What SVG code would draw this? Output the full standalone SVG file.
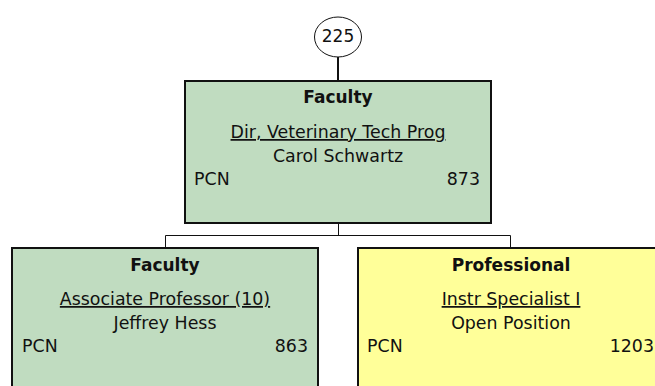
<svg xmlns="http://www.w3.org/2000/svg" width="655" height="386" viewBox="0 0 655 386">
<style>
text { font-family: "DejaVu Sans", Verdana, sans-serif; font-size: 17.4px; fill: #111; }
.t { font-weight: bold; text-anchor: middle; font-size: 17px; }
.c { text-anchor: middle; }
.u { text-anchor: middle; text-decoration: underline; }
.r { text-anchor: end; }
.box { stroke: #111; stroke-width: 2; }
.g { fill: #c0dcc0; }
.y { fill: #ffff99; }
.conn { fill: none; stroke: #111; stroke-width: 1; }
</style>
<rect width="655" height="386" fill="#fff"/>
<g id="connectors">
<line class="conn" x1="338" y1="57" x2="338" y2="80" style="stroke-width:2"/>
<polyline class="conn" points="338.5,223 338.5,235.5"/>
<polyline class="conn" points="165.5,247 165.5,235.5 510.5,235.5 510.5,247"/>
</g>
<g id="node-225">
<ellipse cx="338" cy="37" rx="23.5" ry="20" fill="#fff" stroke="#111" stroke-width="1"/>
<text class="c" x="338" y="42" style="font-size:17px">225</text>
</g>
<g id="node-dir">
<rect class="box g" x="185" y="81" width="306" height="142"/>
<text class="t" x="338" y="103">Faculty</text>
<text class="u" x="338" y="138">Dir, Veterinary Tech Prog</text>
<text class="c" x="338" y="162">Carol Schwartz</text>
<text x="194" y="185">PCN</text>
<text class="r" x="480" y="185">873</text>
</g>
<g id="node-assoc">
<rect class="box g" x="12" y="248" width="306" height="150"/>
<text class="t" x="165" y="271">Faculty</text>
<text class="u" x="165" y="305">Associate Professor (10)</text>
<text class="c" x="165" y="329">Jeffrey Hess</text>
<text x="22" y="352">PCN</text>
<text class="r" x="308" y="352">863</text>
</g>
<g id="node-instr">
<rect class="box y" x="358" y="248" width="306" height="150"/>
<text class="t" x="511" y="271">Professional</text>
<text class="u" x="511" y="305">Instr Specialist I</text>
<text class="c" x="511" y="329">Open Position</text>
<text x="367" y="352">PCN</text>
<text class="r" x="654" y="352">1203</text>
</g>
</svg>
